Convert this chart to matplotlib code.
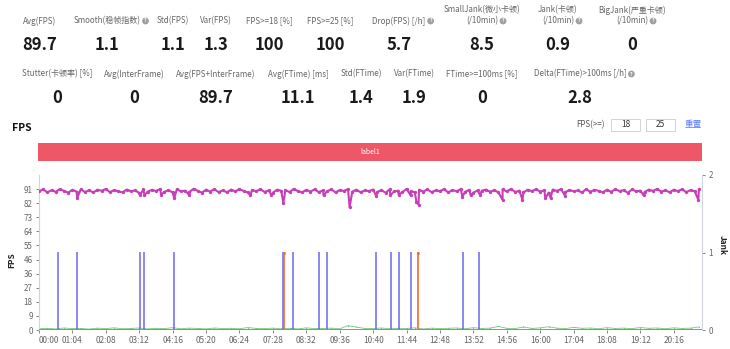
import matplotlib.pyplot as plt
from matplotlib.patches import Rectangle
import numpy as np

plt.rcParams['font.family'] = ['Noto Sans CJK SC', 'DejaVu Sans']

W, H = 730, 349

# header stats: (label lines, value, centre x, has help icon)
row1 = [
    (['Avg(FPS)'], '89.7', 40, False),
    (['Smooth(稳帧指数)'], '1.1', 107, True),
    (['Std(FPS)'], '1.1', 173, False),
    (['Var(FPS)'], '1.3', 216, False),
    (['FPS>=18 [%]'], '100', 269, False),
    (['FPS>=25 [%]'], '100', 330, False),
    (['Drop(FPS) [/h]'], '5.7', 399, True),
    (['SmallJank(微小卡顿)', '(/10min)'], '8.5', 482, True),
    (['Jank(卡顿)', '(/10min)'], '0.9', 558, True),
    (['BigJank(严重卡顿)', '(/10min)'], '0', 632, True),
]
row2 = [
    (['Stutter(卡顿率) [%]'], '0', 57, False),
    (['Avg(InterFrame)'], '0', 134, False),
    (['Avg(FPS+InterFrame)'], '89.7', 216, False),
    (['Avg(FTime) [ms]'], '11.1', 298, False),
    (['Std(FTime)'], '1.4', 361, False),
    (['Var(FTime)'], '1.9', 414, False),
    (['FTime>=100ms [%]'], '0', 482, False),
    (['Delta(FTime)>100ms [/h]'], '2.8', 580, True),
]

# FPS samples every 8 s
fps_step = 8
fps_base = [
    89.6, 90.8, 88.9, 90.3, 89.2, 91.0, 89.8, 88.7, 90.5, 89.4,
    90.9, 89.1, 90.2, 88.8, 90.6, 89.9, 91.1, 89.0, 90.4, 89.5,
    88.9, 90.7, 89.7, 90.1, 88.6, 90.9, 89.3, 90.5, 89.8, 91.0,
    89.2, 90.3, 88.8, 90.8, 89.6, 90.0, 89.1, 91.2, 89.9, 88.7,
    90.6, 89.4, 90.9, 89.0, 90.2, 88.9, 90.7, 89.5, 91.0, 89.8,
    88.8, 90.4, 89.6, 90.9, 89.2, 90.1, 88.7, 90.6, 89.9, 90.3,
    89.1, 91.1, 89.7, 88.9, 90.5, 89.4, 90.8, 89.0, 90.2, 89.6,
    90.9, 88.8, 90.4, 89.8, 91.0, 89.3, 90.6, 88.9, 90.1, 89.7,
    90.7, 89.2, 90.3, 88.6, 90.9, 89.5, 90.0, 89.1, 91.1, 89.8,
    88.9, 90.6, 89.4, 90.8, 89.0, 90.2, 89.7, 90.9, 88.8, 90.4,
    89.6, 91.0, 89.2, 90.5, 88.7, 90.1, 89.9, 90.7, 89.3, 90.3,
    88.9, 90.8, 89.5, 91.1, 89.1, 90.0, 88.8, 90.6, 89.7, 90.9,
    89.4, 90.2, 88.7, 90.7, 89.8, 91.0, 89.0, 90.4, 89.6, 90.1,
    88.8, 90.9, 89.3, 90.5, 89.9, 88.9, 90.6, 89.2, 91.0, 89.7,
    90.3, 88.6, 90.8, 89.5, 90.0, 89.1, 90.7, 89.8, 91.1, 89.4,
    90.2, 88.9, 90.6, 89.7, 90.9, 89.0, 90.4, 89.6, 90.8,
]
# FPS drops (time s, fps)
dip_t = [73, 194, 202, 234, 259, 288, 405, 445, 468, 545, 595, 646, 673, 689,
         712, 723, 727, 811, 827, 845, 888, 926, 970, 980, 1008, 1158, 1263]
dip_v = [85.0, 87.2, 87.0, 87.3, 85.2, 87.1, 87.0, 87.2, 82.0, 87.0, 79.2, 86.5,
         87.0, 87.2, 86.9, 82.5, 81.0, 86.0, 87.0, 87.1, 84.0, 84.2, 85.0, 85.3,
         86.5, 87.0, 84.0]

# green trace every 16 s
green_step = 16
green_v = [
    0.8, 1.1, 0.7, 1.3, 0.9, 1.0, 0.6, 1.2, 0.9, 1.4,
    0.8, 1.0, 1.3, 0.7, 1.1, 0.9, 1.5, 0.8, 1.2, 1.0,
    0.7, 1.3, 0.9, 1.1, 0.8, 1.6, 1.0, 0.9, 1.2, 0.8,
    1.1, 0.7, 1.4, 0.9, 1.0, 1.2, 0.8, 2.8, 1.9, 1.0,
    0.9, 1.3, 0.8, 1.1, 1.0, 1.4, 0.7, 1.2, 0.9, 1.1,
    1.3, 0.8, 1.5, 1.0, 1.2, 2.3, 1.1, 0.9, 2.0, 1.0,
    1.4, 2.1, 1.2, 0.9, 1.7, 1.1, 1.3, 0.8, 1.5, 1.0,
    1.2, 0.9, 1.6, 1.1, 1.3, 0.8, 1.4, 1.0, 1.2, 2.0,
]

small_jank_t = [36, 73, 194, 202, 258, 467, 487, 537, 552, 646, 674, 690, 713, 812, 842]
jank_t = [470, 726]

t_max = 1270
tick_step = 64
y_max = 100.1
y_ticks = [9.1 * i for i in range(11)]


def fx(x):
    return x / W


def fy(y):
    return 1 - y / H


fig = plt.figure(figsize=(W / 100, H / 100), dpi=100)


def help_icon(x, y):
    fig.text(fx(x), fy(y), '?', fontsize=3.6, color='white', ha='center', va='center',
             fontweight='bold',
             bbox=dict(boxstyle='circle,pad=0.18', fc='#a0a0a0', ec='none'))


def draw_row(items, lab_y, val_y):
    for lines, val, cx, icon in items:
        n = len(lines)
        for k, ln in enumerate(lines):
            yy = lab_y - (n - 1 - k) * 11
            t = fig.text(fx(cx), fy(yy), ln, fontsize=5.8, color='#666666',
                         ha='center', va='center')
        if icon:
            # icon right of last line
            r = t.get_window_extent(renderer=fig.canvas.get_renderer())
            help_icon(r.x1 + 5, lab_y)
        fig.text(fx(cx), fy(val_y), val, fontsize=12, fontweight='bold',
                 color='#1a1a1a', ha='center', va='center')


draw_row(row1, 21, 45)
draw_row(row2, 74, 98)

# section title and threshold inputs
fig.text(fx(12), fy(128), 'FPS', fontsize=7.5, fontweight='bold', color='#111111',
         ha='left', va='center')
fig.text(fx(605), fy(125), 'FPS(>=)', fontsize=5.8, color='#555555', ha='right', va='center')
for x0, txt in [(611, '18'), (646, '25')]:
    fig.patches.append(Rectangle((fx(x0), fy(131)), 29 / W, 12 / H, transform=fig.transFigure,
                                 fc='white', ec='#cccccc', lw=0.6))
    fig.text(fx(x0 + 14.5), fy(125), txt, fontsize=6, color='#333333', ha='center', va='center')
fig.text(fx(693), fy(125), '重置', fontsize=6.2, color='#5b7bff', ha='center', va='center')

# label band
fig.patches.append(Rectangle((fx(38), fy(161)), (702 - 38) / W, 18 / H, transform=fig.transFigure,
                             fc='#ee5766', ec='none'))
fig.text(fx(370), fy(152), 'label1', fontsize=5, color='white', ha='center', va='center')

# main chart
ax = fig.add_axes([fx(39), fy(330), (702 - 39) / W, (330 - 175) / H])
ax2 = ax.twinx()

fps_t = [i * fps_step for i in range(len(fps_base))]
pts = sorted(zip(fps_t + dip_t, fps_base + dip_v))
ft, fv = zip(*pts)
ax.plot(ft, fv, color='#c73fb6', lw=1.5, marker='o', ms=2.4, mew=0, zorder=3)

gt = [i * green_step for i in range(len(green_v))]
ax.plot(gt, green_v, color='#6cc06c', lw=0.6, marker='o', ms=0.9, mew=0, alpha=0.9, zorder=2)


def spikes(times):
    xs, ys = [0], [0]
    for t in times:
        xs += [t, t, t]
        ys += [0, 1, 0]
    xs.append(t_max)
    ys.append(0)
    return xs, ys


sx, sy = spikes(small_jank_t)
ax2.plot(sx, sy, color='#5a5aee', lw=1.2, alpha=0.7, zorder=3)
jx, jy = spikes(jank_t)
ax2.plot(jx, jy, color='#f26b38', lw=1.3, alpha=0.85, zorder=4)
ax2.plot(jank_t, [1] * len(jank_t), 'o', color='#f26b38', ms=2, mew=0)
ax2.plot([0, t_max], [0, 0], color='#c08a50', lw=0.8, zorder=2)

ax.set_xlim(0, t_max)
ax.set_ylim(0, y_max)
ax2.set_ylim(0, 2)

ax.set_yticks(y_ticks)
ax.set_yticklabels([str(round(v)) for v in y_ticks])
ax2.set_yticks([0, 1, 2])

xt = list(range(0, t_max, tick_step))
ax.set_xticks(xt)
xl = ax.set_xticklabels(['%02d:%02d' % (t // 60, t % 60) for t in xt])
xl[0].set_horizontalalignment('left')

for a in (ax, ax2):
    a.tick_params(labelsize=5.8, colors='#6e7079', length=2.5, width=0.6, pad=2)
    for s in a.spines.values():
        s.set_visible(False)
ax.tick_params(axis='y', labelcolor='#666666')
ax.tick_params(axis='x', labelcolor='#666666', labelsize=6)
ax2.tick_params(axis='y', labelcolor='#666666')
ax.spines['left'].set_visible(True)
ax.spines['left'].set_color('#d0d4dc')
ax2.spines['right'].set_visible(True)
ax2.spines['right'].set_color('#d0d4dc')

fig.text(fx(12), fy(260), 'FPS', rotation=90, fontsize=6, fontweight='bold',
         color='#222222', ha='center', va='center')
fig.text(fx(722), fy(245), 'Jank', rotation=-90, fontsize=6, fontweight='bold',
         color='#222222', ha='center', va='center')

fig.savefig('out.png', dpi=100)
